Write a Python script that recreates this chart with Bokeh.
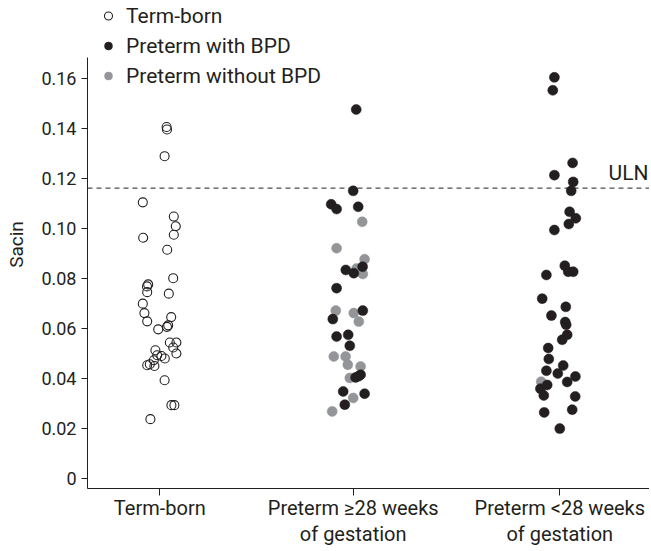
from bokeh.plotting import figure
from bokeh.models import (Range1d, FixedTicker, Span, Label, Legend, LegendItem,
                          ColumnDataSource)
from bokeh.embed import file_html
from bokeh.resources import INLINE

# ---------------- data ----------------
categories = ["Term-born", "Preterm \u226528 weeks\nof gestation", "Preterm <28 weeks\nof gestation"]
cat_pos = [1.0, 1.967, 3.0]

term_vals = [0.1407, 0.1397, 0.129, 0.1105, 0.1048, 0.1009, 0.0975, 0.0963, 0.0915, 0.0801,
             0.0776, 0.0768, 0.0745, 0.0739, 0.0699, 0.0661, 0.0645, 0.0628, 0.0612, 0.0606,
             0.0596, 0.0543, 0.0543, 0.0523, 0.0512, 0.0499, 0.0492, 0.0489, 0.0479, 0.0472,
             0.0456, 0.0452, 0.0449, 0.0392, 0.0292, 0.0292, 0.0236]
term_jit = [0.034, 0.036, 0.024, -0.085, 0.07, 0.08, 0.07, -0.083, 0.037, 0.067,
            -0.058, -0.064, -0.063, 0.045, -0.085, -0.077, 0.057, -0.063, 0.042, 0.036,
            -0.008, 0.05, 0.083, 0.067, -0.022, 0.083, -0.013, 0.008, 0.025, -0.03,
            -0.05, -0.063, -0.027, 0.024, 0.058, 0.073, -0.047]

p28_bpd_vals = [0.1477, 0.1151, 0.1097, 0.1078, 0.1087, 0.0847, 0.0834, 0.0821, 0.0761, 0.0671,
                0.0637, 0.0574, 0.0567, 0.0530, 0.0414, 0.0408, 0.0403, 0.0347, 0.0338, 0.0294]
p28_bpd_jit = [0.015, 0.0, -0.11, -0.083, 0.025, 0.047, -0.037, 0.003, -0.083, 0.048,
               -0.102, -0.025, -0.083, -0.017, 0.037, 0.027, 0.012, -0.05, 0.057, -0.042]

p28_nobpd_vals = [0.1027, 0.0921, 0.0877, 0.0840, 0.0818, 0.0671, 0.0661, 0.0627, 0.0487, 0.0487,
                  0.0454, 0.0447, 0.0401, 0.0321, 0.0267]
p28_nobpd_jit = [0.045, -0.083, 0.057, 0.017, 0.048, -0.087, 0.003, 0.028, -0.097, -0.038,
                 -0.027, 0.037, -0.017, 0.0, -0.105]

lt28_bpd_vals = [0.1606, 0.1554, 0.1263, 0.1214, 0.1187, 0.1151, 0.1067, 0.1041, 0.1018, 0.0994,
                 0.0851, 0.0827, 0.0827, 0.0814, 0.0719, 0.0686, 0.0651, 0.0625, 0.0614, 0.0574,
                 0.0554, 0.0521, 0.0477, 0.0451, 0.0430, 0.0419, 0.0407, 0.0385, 0.0373, 0.0358,
                 0.0331, 0.0327, 0.0274, 0.0263, 0.0198]
lt28_bpd_jit = [-0.027, -0.035, 0.064, -0.027, 0.067, 0.057, 0.049, 0.08, 0.045, -0.027,
                0.025, 0.042, 0.067, -0.067, -0.088, 0.03, -0.042, 0.027, 0.032, 0.037,
                0.012, -0.058, -0.055, 0.017, -0.067, -0.01, 0.078, 0.037, -0.063, -0.097,
                -0.08, 0.077, 0.062, -0.078, 0.0]

lt28_nobpd_vals = [0.0386]
lt28_nobpd_jit = [-0.093]

uln = 0.1162
y_ticks = [0, 0.02, 0.04, 0.06, 0.08, 0.10, 0.12, 0.14, 0.16]
y_tick_labels = ["0", "0.02", "0.04", "0.06", "0.08", "0.10", "0.12", "0.14", "0.16"]

# ---------------- styling ----------------
FONT = "Roboto"
INK = "#231f20"
GREY = "#939598"

Y0, Y1 = -0.0042, 0.1914      # plotting frame (extends to the top so the legend fits)
AXIS_TOP = 0.1686             # where the drawn y axis line stops
p = figure(width=649, height=549, output_backend="svg", toolbar_location=None,
           x_range=Range1d(0.6385, 3.4485), y_range=Range1d(Y0, Y1),
           min_border_left=87, min_border_right=0, min_border_top=0, min_border_bottom=60)
p.outline_line_color = None
p.grid.visible = False
p.background_fill_color = "white"


def src(vals, jit, center):
    return ColumnDataSource(dict(x=[center + j for j in jit], y=vals))


r_term = p.scatter("x", "y", source=src(term_vals, term_jit, cat_pos[0]), size=9,
                   fill_alpha=0, line_color=INK, line_width=1.1)
r_nobpd = p.scatter("x", "y", source=src(p28_nobpd_vals, p28_nobpd_jit, cat_pos[1]), size=10,
                    fill_color=GREY, line_color=GREY, line_width=0.5)
p.scatter("x", "y", source=src(lt28_nobpd_vals, lt28_nobpd_jit, cat_pos[2]), size=10,
          fill_color=GREY, line_color=GREY, line_width=0.5)
r_bpd = p.scatter("x", "y", source=src(p28_bpd_vals, p28_bpd_jit, cat_pos[1]), size=10,
                  fill_color=INK, line_color=INK, line_width=0.5)
p.scatter("x", "y", source=src(lt28_bpd_vals, lt28_bpd_jit, cat_pos[2]), size=10,
          fill_color=INK, line_color=INK, line_width=0.5)

p.add_layout(Span(location=uln, dimension="width", line_color=INK, line_width=1,
                  line_dash="5 4"))
p.add_layout(Label(x=3.4435, y=uln, text="ULN", text_align="right", text_baseline="alphabetic",
                   y_offset=15, text_font=FONT, text_font_size="21px", text_color=INK))

# axes
yax = p.yaxis[0]
yax.ticker = FixedTicker(ticks=y_ticks)
yax.bounds = (Y0, AXIS_TOP)
yax.major_label_overrides = {t: l for t, l in zip(y_ticks, y_tick_labels)}
yax.axis_label = "Sacin"
yax.axis_label_text_font = FONT
yax.axis_label_text_font_style = "normal"
yax.axis_label_text_font_size = "19px"
yax.axis_label_text_color = INK
yax.axis_label_standoff = 10
yax.major_label_text_font_size = "18px"
yax.major_tick_out = 6

xax = p.xaxis[0]
xax.ticker = FixedTicker(ticks=cat_pos)
xax.major_label_overrides = {t: l for t, l in zip(cat_pos, categories)}
xax.major_label_text_font_size = "20px"
xax.major_label_text_line_height = 1.12
xax.major_label_standoff = 0
xax.major_tick_out = 7

for ax in (xax, yax):
    ax.axis_line_color = INK
    ax.axis_line_width = 1
    ax.major_tick_line_color = INK
    ax.major_tick_in = 0
    ax.minor_tick_line_color = None
    ax.major_label_text_font = FONT
    ax.major_label_text_color = INK

legend = Legend(items=[LegendItem(label="Term-born", renderers=[r_term]),
                       LegendItem(label="Preterm with BPD", renderers=[r_bpd]),
                       LegendItem(label="Preterm without BPD", renderers=[r_nobpd])],
                location=(11, 400), padding=0, margin=0, spacing=5,
                glyph_width=20, glyph_height=25, label_height=25, label_standoff=8,
                label_text_font=FONT, label_text_font_size="21px", label_text_color=INK,
                border_line_color=None, background_fill_alpha=0)
p.add_layout(legend, "center")

open("out.html", "w").write(file_html(p, INLINE))
